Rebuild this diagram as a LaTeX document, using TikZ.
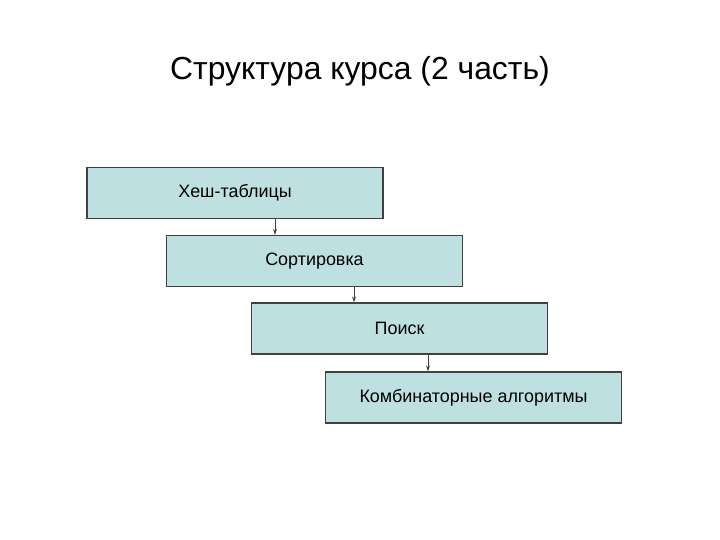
\documentclass[tikz,border=0pt]{standalone}
\usepackage{fontspec}
\setmainfont{Liberation Sans}
\usepackage{xcolor}
\definecolor{boxfill}{RGB}{190,224,224}
\definecolor{boxline}{RGB}{64,64,64}
\usetikzlibrary{arrows.meta,calc}

\begin{document}
\begin{tikzpicture}[x=1bp,y=-1bp,
    topic/.style={draw=boxline, fill=boxfill, line width=1.3bp,
                  minimum width=296bp, minimum height=51bp, inner sep=0pt,
                  font=\fontsize{18}{0}\selectfont},
    link/.style={-{Stealth[length=6bp,width=4bp]}, color=boxline, line width=0.9bp}]
    \useasboundingbox (0,0) rectangle (720,540);

    \node[anchor=base, font=\fontsize{32}{0}\selectfont] (title) at (360,80)
        {Структура курса (2 часть)};

    \begin{scope}
        \node[topic] (hash) at (235,193) {Хеш-таблицы};
        \node[topic] (sort) at (314.5,261) {Сортировка};
        \node[topic] (search) at (399.5,328.5) {Поиск};
        \node[topic] (comb) at (473.5,397.5) {Комбинаторные алгоритмы};
    \end{scope}

    \draw[link] ([xshift=40bp]hash.south) -- ([xshift=40bp]hash.south |- sort.north);
    \draw[link] ([xshift=39.5bp]sort.south) -- ([xshift=39.5bp]sort.south |- search.north);
    \draw[link] ([xshift=28.5bp]search.south) -- ([xshift=28.5bp]search.south |- comb.north);
\end{tikzpicture}
\end{document}
